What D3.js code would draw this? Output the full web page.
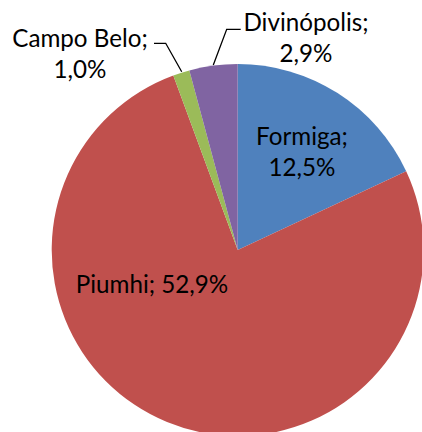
<!DOCTYPE html>
<html>
<head>
<meta charset="utf-8">
<script src="https://cdn.jsdelivr.net/npm/d3@7"></script>
<style>
  body { margin: 0; background: #fff; }
  svg { display: block; }
  text { font-family: Lato, "Open Sans", sans-serif; fill: #000; }
</style>
</head>
<body>
<svg id="chart"></svg>
<script>
// data
const cities = ["Formiga", "Piumhi", "Campo Belo", "Divinópolis"];
const shares = [12.5, 52.9, 1.0, 2.9];
const colors = ["#4F81BD", "#C0504D", "#9BBB59", "#8064A2"];

// label layout (lines of text, anchor point, optional leader line)
const labelPos = [
  { x: 302, y: 145, lines: 2 },
  { x: 152, y: 293, lines: 1 },
  { x: 80, y: 46.7, lines: 2, leader: [[154, 43.3], [165.7, 43.3], [181.7, 71.7]] },
  { x: 306, y: 30.7, lines: 2, leader: [[240.7, 29.3], [226.7, 29.3], [213.3, 65]] }
];

const width = 422, height = 432;
const cx = 237.7, cy = 250, radius = 186;
const fontSize = 24.2, lineGap = 31;

const svg = d3.select("#chart")
    .attr("width", width)
    .attr("height", height);

const g = svg.append("g")
    .attr("transform", `translate(${cx},${cy})`);

const data = cities.map((c, i) => ({ city: c, value: shares[i], color: colors[i] }));

const pie = d3.pie()
    .value(d => d.value)
    .sort(null);

const arc = d3.arc()
    .innerRadius(0)
    .outerRadius(radius);

g.selectAll("path.slice")
    .data(pie(data))
    .join("path")
      .attr("class", "slice")
      .attr("d", arc)
      .attr("fill", d => d.data.color);

const fmt = v => d3.format(".1f")(v).replace(".", ",") + "%";

// leader lines
svg.selectAll("path.leader")
    .data(labelPos.filter(p => p.leader))
    .join("path")
      .attr("class", "leader")
      .attr("d", p => d3.line()(p.leader))
      .attr("fill", "none")
      .attr("stroke", "#000")
      .attr("stroke-width", 1.3);

// labels
data.forEach((d, i) => {
  const p = labelPos[i];
  const t = svg.append("text")
      .attr("text-anchor", "middle")
      .style("font-size", fontSize + "px");
  if (p.lines == 2) {
    t.append("tspan").attr("x", p.x).attr("y", p.y).text(d.city + ";");
    t.append("tspan").attr("x", p.x).attr("y", p.y + lineGap).text(fmt(d.value));
  } else {
    t.append("tspan").attr("x", p.x).attr("y", p.y).text(d.city + "; " + fmt(d.value));
  }
});
</script>
</body>
</html>
